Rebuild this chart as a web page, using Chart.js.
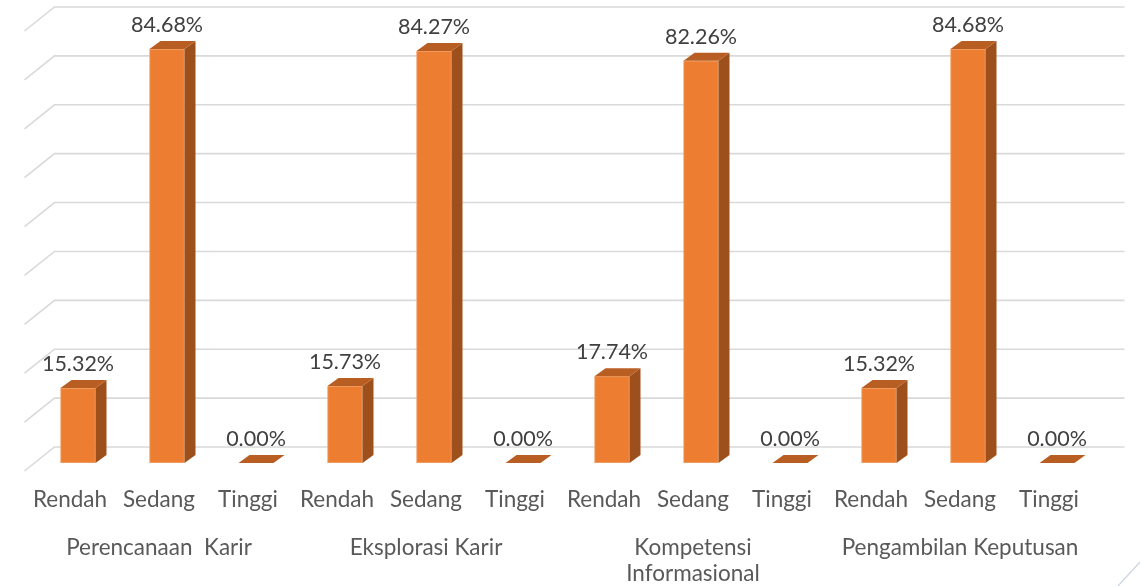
<!DOCTYPE html>
<html>
<head>
<meta charset="utf-8">
<script src="https://cdn.jsdelivr.net/npm/chart.js@4/dist/chart.umd.min.js"></script>
<style>
  html, body { margin: 0; padding: 0; background: #ffffff; }
  #wrap { width: 1140px; height: 586px; position: relative; }
</style>
</head>
<body>
<div id="wrap"><canvas id="chart"></canvas></div>
<script>
// Levels inside each career-maturity dimension
const levels = ['Rendah', 'Sedang', 'Tinggi'];

// Dimension names (shown as the second row of the x axis)
const dimensions = ['Perencanaan  Karir', 'Eksplorasi Karir', ['Kompetensi', 'Informasional'], 'Pengambilan Keputusan'];

// Percentages per dimension: Rendah, Sedang, Tinggi
const perencanaanKarir = [15.32, 84.68, 0.00];
const eksplorasiKarir = [15.73, 84.27, 0.00];
const kompetensiInformasional = [17.74, 82.26, 0.00];
const pengambilanKeputusan = [15.32, 84.68, 0.00];

// Value-axis ticks (only the gridlines are shown)
const yTicks = { min: 0, max: 90, step: 10 };

const categories = [].concat(levels, levels, levels, levels);
const values = [].concat(perencanaanKarir, eksplorasiKarir, kompetensiInformasional, pengambilanKeputusan);

const FRONT = '#ED7D31';
const SIDE = '#9E501C';
const TOP = '#B95E22';
const GRID = '#D9D9D9';
const DEPTH = { dx: 11, dy: -8 };      // bar depth offset
const WALL = { dx: 21, dy: -16 };      // back wall offset from the bar plane
const FLOOR = { dx: -30, dy: 24 };     // left wall depth

// Draws the back wall / side wall gridlines of the 3D frame
const wallGrid = {
  id: 'wallGrid',
  beforeDatasetsDraw(chart) {
    const { ctx, chartArea, scales } = chart;
    const y = scales.y;
    const left = chartArea.left + WALL.dx;
    const right = chartArea.right + WALL.dx + 2;
    ctx.save();
    ctx.strokeStyle = GRID;
    ctx.lineWidth = 1.6;
    y.ticks.forEach(t => {
      const yb = y.getPixelForValue(t.value) + WALL.dy;
      ctx.beginPath();
      ctx.moveTo(left + FLOOR.dx, yb + FLOOR.dy);
      ctx.lineTo(left, yb);
      ctx.lineTo(right, yb);
      ctx.stroke();
    });
    // frame corner at the lower right
    ctx.strokeStyle = '#CDD3DF';
    ctx.lineWidth = 1.2;
    ctx.beginPath();
    ctx.moveTo(1118, 586);
    ctx.lineTo(1140, 562);
    ctx.stroke();
    ctx.restore();
  }
};

// Adds side and top faces to each bar, then the value labels
const bars3d = {
  id: 'bars3d',
  afterDatasetsDraw(chart) {
    const { ctx } = chart;
    const meta = chart.getDatasetMeta(0);
    ctx.save();
    meta.data.forEach((bar, i) => {
      const half = bar.width / 2;
      const l = bar.x - half, r = bar.x + half;
      const top = bar.y, base = bar.base;
      // side face
      if (base - top > 0.5) {
        ctx.fillStyle = SIDE;
        ctx.beginPath();
        ctx.moveTo(r, top);
        ctx.lineTo(r + DEPTH.dx, top + DEPTH.dy);
        ctx.lineTo(r + DEPTH.dx, base + DEPTH.dy);
        ctx.lineTo(r, base);
        ctx.closePath();
        ctx.fill();
      }
      // top face
      ctx.fillStyle = TOP;
      ctx.beginPath();
      ctx.moveTo(l, top);
      ctx.lineTo(l + DEPTH.dx, top + DEPTH.dy);
      ctx.lineTo(r + DEPTH.dx, top + DEPTH.dy);
      ctx.lineTo(r, top);
      ctx.closePath();
      ctx.fill();
    });
    // value labels
    ctx.fillStyle = '#404040';
    ctx.font = '21.5px Lato';
    ctx.textAlign = 'center';
    ctx.textBaseline = 'alphabetic';
    meta.data.forEach((bar, i) => {
      ctx.fillText(values[i].toFixed(2) + '%', bar.x, bar.y - 17);
    });
    ctx.restore();
  }
};

new Chart(document.getElementById('chart'), {
  type: 'bar',
  data: {
    labels: categories,
    datasets: [{
      data: values,
      backgroundColor: FRONT,
      borderColor: '#F2A46E',
      borderWidth: 1,
      borderSkipped: false,
      barThickness: 35,
      categoryPercentage: 1
    }]
  },
  options: {
    responsive: true,
    maintainAspectRatio: false,
    animation: false,
    layout: { padding: { left: 33.5, right: 38.5, top: 23, bottom: 0 } },
    plugins: { legend: { display: false }, tooltip: { enabled: false } },
    scales: {
      y: {
        display: false,
        min: yTicks.min,
        max: yTicks.max,
        ticks: { stepSize: yTicks.step }
      },
      x: {
        position: 'bottom',
        weight: 0,
        offset: true,
        grid: { display: false, drawTicks: false },
        border: { display: false },
        ticks: {
          autoSkip: false,
          maxRotation: 0,
          padding: 24,
          labelOffset: -8,
          color: '#595959',
          font: { family: 'Lato', size: 22.5, lineHeight: 1.15 }
        },
        afterFit(axis) { axis.height = 60; }
      },
      x2: {
        type: 'category',
        labels: dimensions,
        position: 'bottom',
        weight: 1,
        offset: true,
        grid: { display: false, drawTicks: false },
        border: { display: false },
        ticks: {
          autoSkip: false,
          maxRotation: 0,
          padding: 12,
          labelOffset: -8,
          color: '#595959',
          font: { family: 'Lato', size: 22.5, lineHeight: 1.15 }
        },
        afterFit(axis) { axis.height = 63; }
      }
    }
  },
  plugins: [wallGrid, bars3d]
});
</script>
</body>
</html>
